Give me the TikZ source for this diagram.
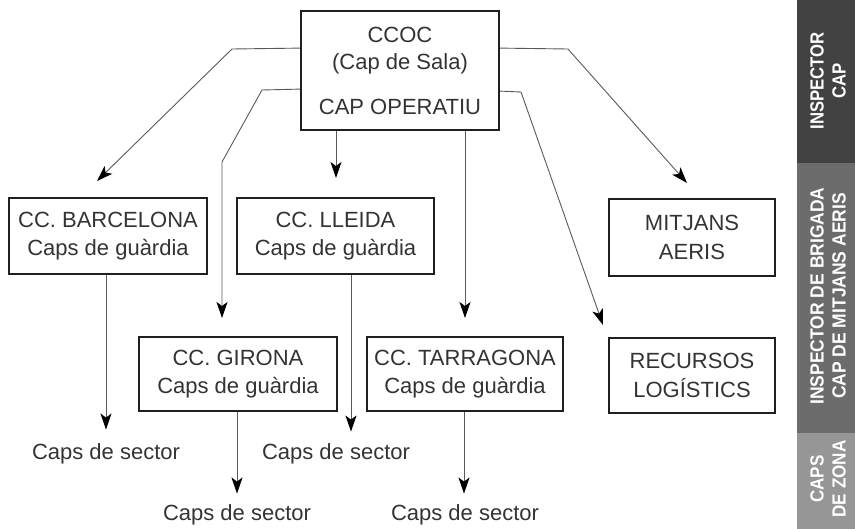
\documentclass[tikz,border=0pt]{standalone}
\usepackage{fontspec}
\setmainfont{Liberation Sans}
\usetikzlibrary{arrows.meta,calc}
\definecolor{txt}{HTML}{333333}
\definecolor{side1}{HTML}{424242}
\definecolor{side2}{HTML}{6C6C6C}
\definecolor{side3}{HTML}{969696}
\begin{document}
\begin{tikzpicture}[x=1pt,y=-1pt,
  box/.style={draw=black!88,line width=1.8pt,inner sep=0pt,align=center,text=txt,
    font=\fontsize{22}{28.5}\selectfont},
  lbl/.style={text=txt,inner sep=0pt,font=\fontsize{22}{26}\selectfont},
  conn/.style={draw=black!65,line width=0.9pt,-{Stealth[length=16pt,width=11pt,inset=4pt,color=black]}},
  sidetxt/.style={rotate=90,text=white,align=center,inner sep=0pt,
    font=\fontsize{19}{22}\selectfont\bfseries}]
\useasboundingbox (0,0) rectangle (855,529);
% side bar
\fill[side1] (797,0) rectangle (855,163);
\fill[side2] (797,163) rectangle (855,433);
\fill[side3] (797,433) rectangle (855,529);
\node[sidetxt] (s1) at (828,81) {\scalebox{0.88}[1]{INSPECTOR}\\\scalebox{0.88}[1]{CAP}};
\node[sidetxt] (s2) at (828,296) {\scalebox{0.92}[1]{INSPECTOR DE BRIGADA}\\\scalebox{0.92}[1]{CAP DE MITJANS AERIS}};
\node[sidetxt] (s3) at (828,479) {\scalebox{0.9}[1]{CAPS}\\\scalebox{0.9}[1]{DE ZONA}};
% boxes
\node[box,minimum width=198pt,minimum height=119pt,font=\fontsize{22}{27}\selectfont] (ccoc) at (400,70.5)
  {CCOC\\(Cap de Sala)\\[18pt]CAP OPERATIU};
\node[box,minimum width=198pt,minimum height=76pt] (bcn) at (108,236) {CC. BARCELONA\\Caps de guàrdia};
\node[box,minimum width=197pt,minimum height=76pt] (lle) at (335.5,236) {CC. LLEIDA\\Caps de guàrdia};
\node[box,minimum width=166pt,minimum height=77pt] (mit) at (692,237.5) {MITJANS\\AERIS};
\node[box,minimum width=166pt,minimum height=75pt] (rec) at (692,375.5) {RECURSOS\\LOGÍSTICS};
\node[box,minimum width=198pt,minimum height=74pt] (gir) at (238,374) {CC. GIRONA\\Caps de guàrdia};
\node[box,minimum width=196pt,minimum height=74pt] (tar) at (465,374) {CC. TARRAGONA\\Caps de guàrdia};
% sector labels
\node[lbl] (sb) at (106,454) {Caps de sector};
\node[lbl] (sl) at (336,454) {Caps de sector};
\node[lbl] (sg) at (237,515) {Caps de sector};
\node[lbl] (st) at (465,515) {Caps de sector};
% arrow tips
\coordinate (tb) at (97,181);
\coordinate (tg) at (222,318);
\coordinate (tl) at (336,178);
\coordinate (tt) at (465,318);
\coordinate (tr) at (603,325);
\coordinate (tm) at (687,183);
% connectors from CCOC
\draw[conn] ($(ccoc.north west)+(0,38)$) -- (232,49) -- (tb);
\draw[conn] ($(ccoc.north west)+(0,79)$) -- (262,90) -- (222,162) -- (tg);
\draw[conn] (ccoc.south -| tl) -- (tl);
\draw[conn] (ccoc.south -| tt) -- (tt);
\draw[conn] ($(ccoc.north east)+(0,81)$) -- (521,92) -- (tr);
\draw[conn] ($(ccoc.north east)+(0,38)$) -- (568,49) -- (tm);
% connectors to sector chiefs
\draw[conn] ($(bcn.south)+(-2,0)$) -- ($(sb.north)+(0,-14)$);
\draw[conn] ($(lle.south)+(15.5,0)$) -- ($(sl.north)+(15,-12)$);
\draw[conn] ($(gir.south)+(-1,0)$) -- ($(sg.north)+(0,-11)$);
\draw[conn] ($(tar.south)+(-1,0)$) -- ($(st.north)+(-1,-11)$);
\end{tikzpicture}
\end{document}
